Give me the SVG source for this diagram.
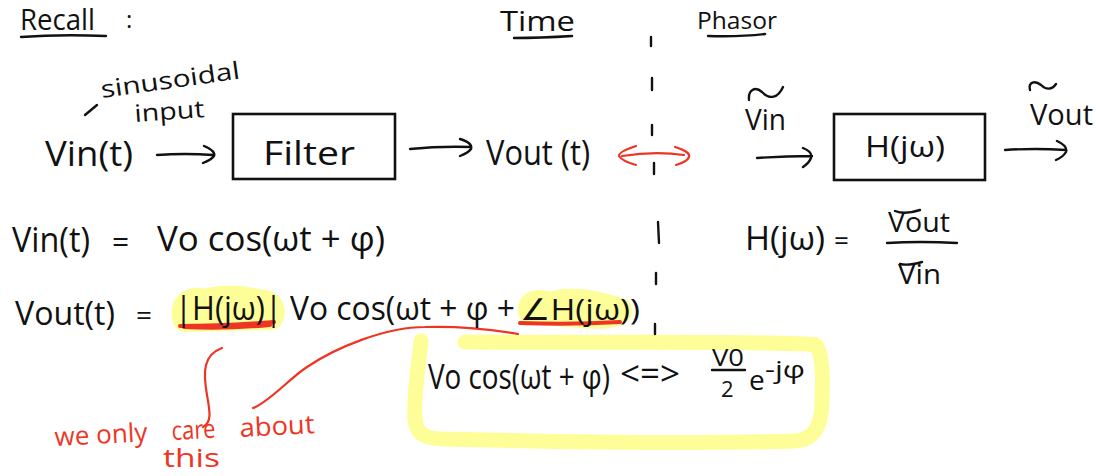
<svg xmlns="http://www.w3.org/2000/svg" width="1096" height="476" viewBox="0 0 1096 476">
<style>
text{font-family:"Open Sans","Liberation Sans",sans-serif;fill:#111;font-weight:400}
.red{fill:#ee3524}
.k{fill:none;stroke:#111;stroke-width:2.4;stroke-linecap:round;stroke-linejoin:round}
.r{fill:none;stroke:#ee3524;stroke-width:2.2;stroke-linecap:round;stroke-linejoin:round}
.ru{fill:none;stroke:#ee3524;stroke-width:4;stroke-linecap:round}
.y{fill:none;stroke:#fefe98;stroke-linecap:round;stroke-linejoin:round}
.box{fill:none;stroke:#111;stroke-width:2.6}
</style>
<rect width="1096" height="476" fill="#fff"/>
<g id="highlights">
<path class="y" stroke-width="28" d="M186 318C184 302 194 300 205 303C222 298 240 298 262 304C270 302 272 312 270 316Z"/>
<path class="y" stroke-width="24" d="M530 312C528 302 538 300 550 304C568 298 590 300 620 310C622 316 600 318 580 316Z"/>
<path class="y" stroke-width="15" d="M421 341C418 370 413 400 415 420C417 436 428 439 445 439C560 442 700 444 795 441C815 440 822 425 822 400C823 380 823 355 816 345C800 341 640 343 465 342"/>
</g>
<g id="headers">
<text x="20" y="30" font-size="30" textLength="75" lengthAdjust="spacingAndGlyphs">Recall</text>
<text x="126" y="28" font-size="24">:</text>
<path class="k" d="M21 37Q60 34 106 36"/>
<text x="500" y="31" font-size="27" textLength="75" lengthAdjust="spacingAndGlyphs">Time</text>
<path class="k" d="M514 38Q540 38 572 36"/>
<text x="697" y="29" font-size="24" textLength="80" lengthAdjust="spacingAndGlyphs">Phasor</text>
<path class="k" d="M708 36Q740 37 765 34"/>
</g>
<g id="connectors">
<path class="k" d="M85 115L97 105"/>
<path class="k" d="M157 155Q185 153 213 155M204 146Q216 151 214 156Q211 160 203 163"/>
<path class="k" d="M410 149Q440 146 471 147M460 139Q473 143 471 149Q468 153 460 156"/>
<path class="k" d="M757 158Q785 156 812 156M803 148Q813 152 811 158Q809 163 803 167"/>
<path class="k" d="M1005 150Q1035 148 1066 150M1057 141Q1068 146 1066 152Q1063 157 1056 160"/>
<path class="k" d="M651 37V46M652 78V90M652 125V135M654 163V174M658 222L659 243M656 273V284M655 324V334"/>
<path class="r" stroke-width="2.6" d="M636 146Q618 152 619 156Q622 161 636 165M622 156Q655 151 684 155M675 147Q691 152 689 157Q687 162 676 165"/>
<path class="ru" d="M180 326Q225 326 274 322M184 327Q225 329 270 325"/>
<path class="ru" d="M520 323Q570 325 620 322"/>
<path class="r" d="M222 348C203 355 203 372 207 395C210 412 212 422 203 427"/>
<path class="r" d="M253 408C268 403 290 378 307 367C335 348 385 327 425 327C460 326 495 330 518 334"/>
</g>
<g id="input-label">
<text x="102" y="98" font-size="24" transform="rotate(-8 102 98)" textLength="140" lengthAdjust="spacingAndGlyphs">sinusoidal</text>
<text x="135" y="122" font-size="24" transform="rotate(-4 135 122)" textLength="70" lengthAdjust="spacingAndGlyphs">input</text>
</g>
<g id="time-chain">
<text x="45" y="166" font-size="34" textLength="88" lengthAdjust="spacingAndGlyphs">Vin(t)</text>
<text x="486" y="165" font-size="34" textLength="104" lengthAdjust="spacingAndGlyphs">Vout (t)</text>
</g>
<g id="filter">
<rect class="box" x="233" y="114" width="162" height="65"/>
<text x="263" y="165" font-size="32" textLength="92" lengthAdjust="spacingAndGlyphs">Filter</text>
</g>
<g id="phasor-chain">
<path class="k" d="M749 100C748 90 755 86 762 92C770 100 778 98 783 87"/>
<text x="745" y="130" font-size="30" textLength="41" lengthAdjust="spacingAndGlyphs">Vin</text>
<path class="k" d="M1030 90C1028 82 1035 80 1041 85C1046 90 1052 90 1056 84"/>
<text x="1030" y="125" font-size="30" textLength="63" lengthAdjust="spacingAndGlyphs">Vout</text>
</g>
<g id="transfer">
<rect class="box" x="834" y="114" width="151" height="66"/>
<text x="865" y="157" font-size="30" textLength="80" lengthAdjust="spacingAndGlyphs">H(jω)</text>
</g>
<g id="transfer-eq">
<text x="745" y="250" font-size="32" textLength="80" lengthAdjust="spacingAndGlyphs">H(jω)</text>
<text x="834" y="250" font-size="26">=</text>
<path class="k" d="M895 211Q905 215 920 210"/>
<text x="888" y="232" font-size="28" textLength="62" lengthAdjust="spacingAndGlyphs">Vout</text>
<path class="k" d="M887 243Q920 241 957 243"/>
<path class="k" d="M900 264Q908 266 922 262"/>
<text x="898" y="284" font-size="28" textLength="43" lengthAdjust="spacingAndGlyphs">Vin</text>
</g>
<g id="equations">
<text x="12" y="252" font-size="34" textLength="78" lengthAdjust="spacingAndGlyphs">Vin(t)</text>
<text x="112" y="252" font-size="30">=</text>
<text x="157" y="251" font-size="34" textLength="228" lengthAdjust="spacingAndGlyphs">Vo cos(ωt + φ)</text>
<text x="15" y="325" font-size="32" textLength="100" lengthAdjust="spacingAndGlyphs">Vout(t)</text>
<text x="136" y="325" font-size="28">=</text>
<text x="175" y="320" font-size="32" textLength="107" lengthAdjust="spacingAndGlyphs">|H(jω)|</text>
<text x="290" y="320" font-size="32" textLength="225" lengthAdjust="spacingAndGlyphs">Vo cos(ωt + φ +</text>
<text x="520" y="320" font-size="30" textLength="120" lengthAdjust="spacingAndGlyphs">∠H(jω))</text>
</g>
<g id="phasor-pair">
<text x="428" y="389" font-size="34" textLength="182" lengthAdjust="spacingAndGlyphs">Vo cos(ωt + φ)</text>
<text x="620" y="386" font-size="34" textLength="60" lengthAdjust="spacingAndGlyphs">&lt;=&gt;</text>
<text x="712" y="366" font-size="24" textLength="32" lengthAdjust="spacingAndGlyphs">V0</text>
<path class="k" d="M712 370H745"/>
<text x="721" y="397" font-size="22">2</text>
<text x="749" y="390" font-size="28">e</text>
<text x="765" y="378" font-size="24" textLength="40" lengthAdjust="spacingAndGlyphs">-jφ</text>
</g>
<g id="note">
<text class="red" x="55" y="446" font-size="26" transform="rotate(-3 55 446)" textLength="93" lengthAdjust="spacingAndGlyphs">we only</text>
<text class="red" x="172" y="440" font-size="26" transform="rotate(-3 172 440)" textLength="44" lengthAdjust="spacingAndGlyphs">care</text>
<text class="red" x="240" y="437" font-size="26" transform="rotate(-3 240 437)" textLength="75" lengthAdjust="spacingAndGlyphs">about</text>
<text class="red" x="163" y="467" font-size="26" textLength="57" lengthAdjust="spacingAndGlyphs">this</text>
</g>
</svg>
